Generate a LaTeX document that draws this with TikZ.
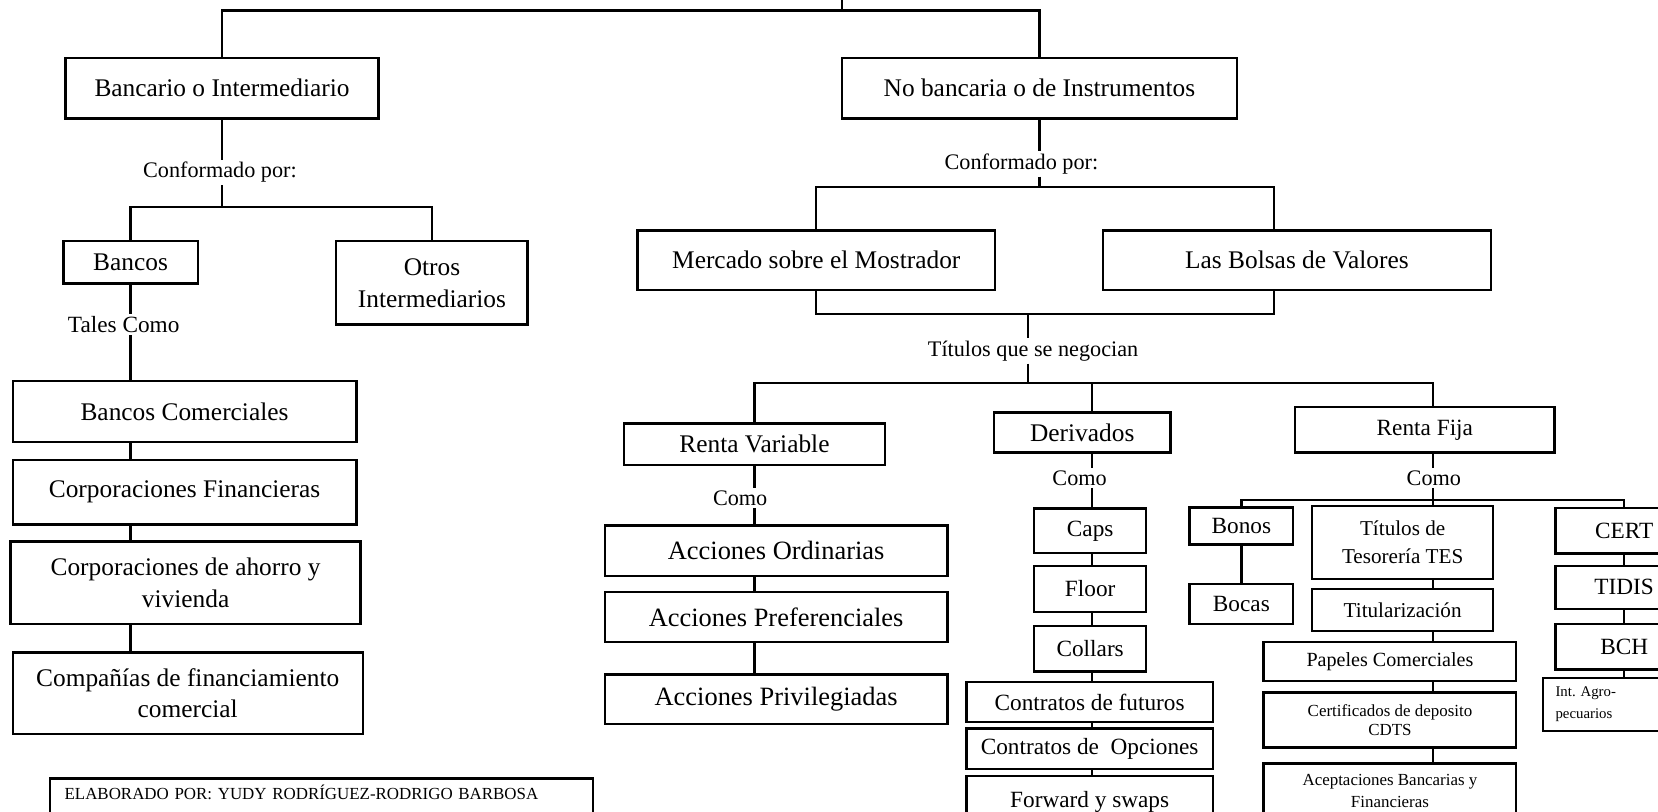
\documentclass[tikz,border=0pt]{standalone}
\usepackage{fontspec}
\setmainfont{Liberation Serif}
\newcommand{\letra}[2]{\fontsize{#1}{#2}\selectfont}
\tikzset{
  caja/.style={draw, line width=1.1pt, align=center, inner sep=1pt, font=\letra{12}{15}},
  etiqueta/.style={inner sep=1pt, font=\letra{10.5}{12}},
  linea/.style={line width=1.1pt},
}

\begin{document}
\begin{tikzpicture}[x=0.5pt,y=-0.5pt]
\useasboundingbox (0,0) rectangle (1568,767);

%Ejes verticales de las columnas
\coordinate (raiz) at (796,0);
\coordinate (cruce0) at (796,10);
\coordinate (ejeBolsas) at (1205,0);
\coordinate (ejeDer) at (1033,0);
\coordinate (ejeRF) at (1355,0);

% Primer nivel
\node[caja, minimum width=148pt, minimum height=28.5pt] (bancario) at (210,83.5) {Bancario o Intermediario};
\node[caja, minimum width=187pt, minimum height=28.5pt] (nobancaria) at (983,83.5) {No bancaria o de Instrumentos};
\draw[linea] (raiz) -- (cruce0);
\draw[linea] (bancario.north) |- (cruce0) -| (nobancaria.north);

% Rama bancaria
\node[etiqueta] (conf1) at (208,163) {Conformado por:};
\coordinate (cruce1) at (210,196);
\node[caja, minimum width=63.5pt, minimum height=20pt] (bancos) at (123.5,248) {Bancos};
\node[caja, minimum width=90.5pt, minimum height=39.5pt] (otros) at (408.5,267.5) {Otros\\Intermediarios};
\draw[linea] (bancario.south) -- (bancario.south |- conf1.north);
\draw[linea] (bancario.south |- conf1.south) -- (cruce1);
\draw[linea] (bancos.north) |- (cruce1) -| (otros.north);

\node[etiqueta, font=\letra{11}{12}] (tales) at (117,307) {Tales Como};
\node[caja, minimum width=162.5pt, minimum height=29pt] (comerciales) at (174.5,389) {Bancos Comerciales};
\node[caja, minimum width=162.5pt, minimum height=30.5pt] (financieras) at (174.5,465.5) {Corporaciones Financieras};
\node[caja, minimum width=165.5pt, minimum height=39pt] (ahorro) at (175.5,551) {Corporaciones de ahorro y\\vivienda};
\node[caja, minimum width=165.5pt, minimum height=38.5pt] (companias) at (177.5,655.5) {Compañías de financiamiento\\comercial};
\draw[linea] (bancos.south) -- (bancos.south |- tales.north);
\draw[linea] (bancos.south |- tales.south) -- (bancos.south |- comerciales.north);
\draw[linea] (bancos.south |- comerciales.south) -- (bancos.south |- financieras.north);
\draw[linea] (bancos.south |- financieras.south) -- (bancos.south |- ahorro.north);
\draw[linea] (bancos.south |- ahorro.south) -- (bancos.south |- companias.north);

% Text Node
\node[caja, anchor=north west, align=left, text width=243pt, inner xsep=7pt, inner ysep=3pt, text depth=16pt, font=\letra{8}{9}] (elaborado) at (46,735) {ELABORADO POR: YUDY RODRÍGUEZ-RODRIGO BARBOSA};

% Rama no bancaria
\node[etiqueta] (conf2) at (966,155) {Conformado por:};
\coordinate (cruce2) at (983,177);
\node[caja, minimum width=169pt, minimum height=28pt] (mercado) at (772,246) {Mercado sobre el Mostrador};
\node[caja, minimum width=183.5pt, minimum height=28pt] (bolsas) at (1226.5,246) {Las Bolsas de Valores};
\draw[linea] (nobancaria.south) -- (nobancaria.south |- conf2.north);
\draw[linea] (nobancaria.south |- conf2.south) -- (cruce2);
\draw[linea] (mercado.north) |- (cruce2) -| (ejeBolsas |- bolsas.north);

\coordinate (cruce3) at (972,297);
\coordinate (cruce4) at (972,362);
\node[etiqueta] (titulos) at (977,332) {Títulos que se negocian};
\draw[linea] (mercado.south) |- (cruce3) -| (ejeBolsas |- bolsas.south);
\draw[linea] (cruce3) -- (cruce3 |- titulos.north);
\draw[linea] (cruce3 |- titulos.south) -- (cruce4);

% Renta variable
\node[caja, minimum width=123.5pt, minimum height=19.5pt] (rv) at (713.5,420) {Renta Variable};
\node[etiqueta] (como1) at (700,471) {Como};
\node[caja, minimum width=162pt, minimum height=24pt, font=\letra{12.5}{14}] (ordinarias) at (734,521) {Acciones Ordinarias};
\node[caja, minimum width=162pt, minimum height=23.5pt, font=\letra{12.5}{14}] (preferenciales) at (734,583.5) {Acciones Preferenciales};
\node[caja, minimum width=162pt, minimum height=23.5pt, font=\letra{12.5}{14}] (privilegiadas) at (734,661.5) {Acciones Privilegiadas};
\draw[linea] (rv.north) |- (cruce4) -| (ejeRF |- 0,385);
\draw[linea] (rv.south) -- (rv.south |- como1.north);
\draw[linea] (rv.south |- como1.south) -- (rv.south |- ordinarias.north);
\draw[linea] (rv.south |- ordinarias.south) -- (rv.south |- preferenciales.north);
\draw[linea] (rv.south |- preferenciales.south) -- (rv.south |- privilegiadas.north);

% Derivados
\node[caja, minimum width=83.5pt, minimum height=19pt] (derivados) at (1023.5,409) {Derivados};
\node[etiqueta] (como2) at (1021,452) {Como};
\node[caja, minimum width=53pt, minimum height=21pt, font=\letra{11}{13}] (caps) at (1031,502) {Caps};
\node[caja, minimum width=53pt, minimum height=22pt, font=\letra{11}{13}] (floor) at (1031,557) {Floor};
\node[caja, minimum width=53pt, minimum height=21.5pt, font=\letra{11}{13}] (collars) at (1031,613.5) {Collars};
\node[caja, minimum width=116.5pt, minimum height=19pt, font=\letra{11}{13}] (futuros) at (1030.5,664) {Contratos de futuros};
\node[caja, minimum width=116.5pt, minimum height=19pt, font=\letra{11}{13}] (opciones) at (1030.5,708) {Contratos de\ \ Opciones};
\node[caja, minimum width=116.5pt, minimum height=24pt, font=\letra{11}{13}] (forward) at (1030.5,758) {Forward y swaps};
\draw[linea] (cruce4 -| ejeDer) -- (ejeDer |- derivados.north);
\draw[linea] (ejeDer |- derivados.south) -- (ejeDer |- como2.north);
\draw[linea] (ejeDer |- como2.south) -- (ejeDer |- caps.north);
\draw[linea] (ejeDer |- caps.south) -- (ejeDer |- floor.north);
\draw[linea] (ejeDer |- floor.south) -- (ejeDer |- collars.north);
\draw[linea] (ejeDer |- collars.south) -- (ejeDer |- futuros.north);
\draw[linea] (ejeDer |- futuros.south) -- (ejeDer |- opciones.north);
\draw[linea] (ejeDer |- opciones.south) -- (ejeDer |- forward.north);

% Renta fija
\node[caja, minimum width=122.5pt, minimum height=21.5pt, font=\letra{11}{13}] (rentafija) at (1347.5,406.5) {Renta Fija};
\node[etiqueta] (como3) at (1356,452) {Como};
\coordinate (cruce5) at (1355,473);
\node[caja, minimum width=49pt, minimum height=17.5pt, font=\letra{11}{13}] (bonos) at (1174,497.5) {Bonos};
\node[caja, minimum width=49pt, minimum height=19pt, font=\letra{11}{13}] (bocas) at (1174,571) {Bocas};
\node[caja, minimum width=85.5pt, minimum height=34.5pt, font=\letra{10}{13.5}] (tes) at (1326.5,513) {Títulos de\\Tesorería TES};
\node[caja, minimum width=85.5pt, minimum height=20pt, font=\letra{10}{12}] (titul) at (1326.5,577) {Titularización};
\node[caja, minimum width=119.5pt, minimum height=18.5pt, font=\letra{9.5}{11}] (papeles) at (1314.5,625.5) {Papeles Comerciales};
\node[caja, minimum width=119.5pt, minimum height=26pt, font=\letra{8}{9}] (certificados) at (1314.5,681) {Certificados de deposito\\CDTS};
\node[caja, minimum width=119.5pt, minimum height=26pt, font=\letra{8}{10.5}] (aceptaciones) at (1314.5,748) {Aceptaciones Bancarias y\\Financieras};
\node[caja, minimum width=65pt, minimum height=21.5pt, font=\letra{11}{13}] (cert) at (1536,502) {CERT};
\node[caja, minimum width=65pt, minimum height=20.5pt, font=\letra{11}{13}] (tidis) at (1536,555.5) {TIDIS};
\node[caja, minimum width=65pt, minimum height=21.5pt, font=\letra{11}{13}] (bch) at (1536,611.5) {BCH};
\node[caja, anchor=north west, align=left, text width=70pt, inner xsep=6pt, minimum height=25pt, font=\letra{7}{10.5}] (intagro) at (1458,640) {Int.\ Agro-\\pecuarios};
\draw[linea] (ejeRF |- rentafija.south) -- (ejeRF |- como3.north);
\draw[linea] (ejeRF |- como3.south) -- (cruce5);
\draw[linea] (bonos.north) |- (cruce5) -| (cert.north);
\draw[linea] (cruce5) -- (ejeRF |- tes.north);
\draw[linea] (bonos.south) -- (bocas.north);
\draw[linea] (ejeRF |- tes.south) -- (ejeRF |- titul.north);
\draw[linea] (ejeRF |- titul.south) -- (ejeRF |- papeles.north);
\draw[linea] (ejeRF |- papeles.south) -- (ejeRF |- certificados.north);
\draw[linea] (ejeRF |- certificados.south) -- (ejeRF |- aceptaciones.north);
\draw[linea] (cert.south) -- (tidis.north);
\draw[linea] (tidis.south) -- (bch.north);
\draw[linea] (bch.south) -- (bch.south |- intagro.north);

\end{tikzpicture}
\end{document}
